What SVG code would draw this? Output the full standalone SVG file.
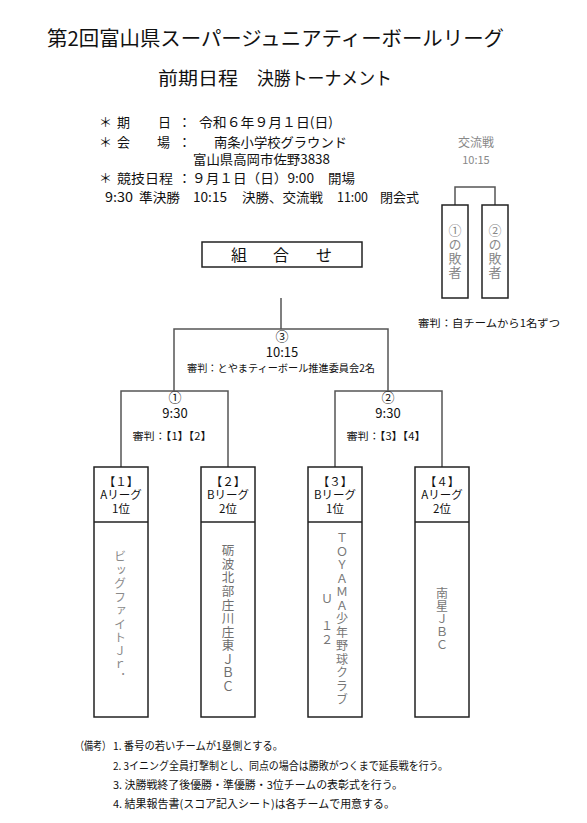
<svg xmlns="http://www.w3.org/2000/svg" width="587" height="823" viewBox="0 0 587 823">
<style>
text{font-family:"Noto Sans CJK JP","Noto Sans",sans-serif;fill:#111}
.t13{font-size:13px}
.t12{font-size:12px}
.t11{font-size:11px}
.t10{font-size:10.5px}
.hd{font-size:11.5px;text-anchor:middle}
.mid{text-anchor:middle}
.gray{fill:#888}
.vert{writing-mode:vertical-rl;text-orientation:upright;text-anchor:middle}
.box{fill:#fff;stroke:#222;stroke-width:1.5}
.line{fill:none;stroke:#555;stroke-width:1.5}
</style>
<rect width="587" height="823" fill="#fff"/>

<g id="title">
<text x="47" y="46" style="font-size:20px" textLength="457" lengthAdjust="spacingAndGlyphs">第2回富山県スーパージュニアティーボールリーグ</text>
<text x="158" y="85" style="font-size:18px" textLength="80" lengthAdjust="spacingAndGlyphs">前期日程</text>
<text x="257" y="85" style="font-size:18px" textLength="135" lengthAdjust="spacingAndGlyphs">決勝トーナメント</text>
</g>

<g id="info" class="t13">
<text x="99" y="127">＊</text><text x="117" y="127">期</text><text x="158" y="127">日</text><text x="178" y="127">：</text>
<text x="199" y="127" textLength="134" lengthAdjust="spacingAndGlyphs">令和６年９月１日(日)</text>
<text x="99" y="147">＊</text><text x="117" y="147">会</text><text x="157" y="147">場</text><text x="178" y="147">：</text>
<text x="214" y="147" textLength="133" lengthAdjust="spacingAndGlyphs">南条小学校グラウンド</text>
<text x="193" y="164" textLength="137" lengthAdjust="spacingAndGlyphs">富山県高岡市佐野3838</text>
<text x="99" y="183">＊</text>
<text x="117" y="183" textLength="56" lengthAdjust="spacingAndGlyphs">競技日程</text>
<text x="178" y="183">：</text>
<text x="192" y="183" textLength="122" lengthAdjust="spacingAndGlyphs">９月１日（日）9:00</text>
<text x="328" y="183" textLength="27" lengthAdjust="spacingAndGlyphs">開場</text>
<text x="105" y="202" textLength="28" lengthAdjust="spacingAndGlyphs">9:30</text>
<text x="139" y="202" textLength="41" lengthAdjust="spacingAndGlyphs">準決勝</text>
<text x="193" y="202" textLength="34" lengthAdjust="spacingAndGlyphs">10:15</text>
<text x="242" y="202" textLength="81" lengthAdjust="spacingAndGlyphs">決勝、交流戦</text>
<text x="337" y="202" textLength="31" lengthAdjust="spacingAndGlyphs">11:00</text>
<text x="380" y="202" textLength="39" lengthAdjust="spacingAndGlyphs">閉会式</text>
</g>

<g id="exchange">
<text x="476" y="147" class="t12 mid gray">交流戦</text>
<text x="476" y="164" class="t11 mid gray">10:15</text>
</g>

<g id="connectors">
<path class="line" d="M455 205 V187 H495 V205"/>
<path class="line" d="M281 298 V329"/>
<path class="line" d="M174 391 V329 H388 V391"/>
<path class="line" d="M121 467 V391 H228 V467"/>
<path class="line" d="M335 467 V391 H442 V467"/>
</g>

<g id="loser1">
<rect class="box" x="442" y="205" width="26" height="93"/>
<text class="vert gray" x="455" y="252" style="font-size:13px;letter-spacing:1px">①の敗者</text>
</g>
<g id="loser2">
<rect class="box" x="482" y="205" width="26" height="93"/>
<text class="vert gray" x="495" y="252" style="font-size:13px;letter-spacing:1px">②の敗者</text>
</g>
<g id="referee-note">
<text x="489" y="327" class="t10 mid" textLength="142" lengthAdjust="spacingAndGlyphs">審判：自チームから1名ずつ</text>
</g>

<g id="kumiawase">
<rect x="202" y="242" width="160" height="25" fill="#fff" stroke="#222" stroke-width="1.5"/>
<text x="239" y="261" class="mid" style="font-size:16px">組</text>
<text x="281" y="261" class="mid" style="font-size:16px">合</text>
<text x="324" y="261" class="mid" style="font-size:16px">せ</text>
</g>

<g id="final">
<text x="282" y="341" class="t13 mid">③</text>
<text x="282" y="357" class="t13 mid">10:15</text>
<text x="281" y="371.5" class="t10 mid" textLength="188" lengthAdjust="spacingAndGlyphs">審判：とやまティーボール推進委員会2名</text>
</g>
<g id="semi1">
<text x="175" y="402" class="t13 mid">①</text>
<text x="175" y="418" class="t13 mid">9:30</text>
<text x="172" y="440" class="t10 mid" textLength="79" lengthAdjust="spacingAndGlyphs">審判：【1】【2】</text>
</g>
<g id="semi2">
<text x="388" y="402" class="t13 mid">②</text>
<text x="388" y="418" class="t13 mid">9:30</text>
<text x="386" y="440" class="t10 mid" textLength="79" lengthAdjust="spacingAndGlyphs">審判：【3】【4】</text>
</g>

<g id="team1">
<rect class="box" x="94" y="467" width="54" height="250"/>
<line x1="94" y1="522" x2="148" y2="522" stroke="#222" stroke-width="1.5"/>
<text x="121" y="486" class="hd">【１】</text>
<text x="121" y="499" class="hd">Aリーグ</text>
<text x="121" y="512.5" class="hd">1位</text>
<text class="vert" x="120" y="618" style="font-size:12px;letter-spacing:1.5px;fill:#8a8a8a">ビッグファイトＪｒ．</text>
</g>
<g id="team2">
<rect class="box" x="201" y="467" width="54" height="250"/>
<line x1="201" y1="522" x2="255" y2="522" stroke="#222" stroke-width="1.5"/>
<text x="228" y="486" class="hd">【２】</text>
<text x="228" y="499" class="hd">Bリーグ</text>
<text x="228" y="512.5" class="hd">2位</text>
<text class="vert" x="228" y="619" style="font-size:12.5px;letter-spacing:1.1px;fill:#6e6e6e">砺波北部庄川庄東ＪＢＣ</text>
</g>
<g id="team3">
<rect class="box" x="308" y="467" width="54" height="250"/>
<line x1="308" y1="522" x2="362" y2="522" stroke="#222" stroke-width="1.5"/>
<text x="335" y="486" class="hd">【３】</text>
<text x="335" y="499" class="hd">Bリーグ</text>
<text x="335" y="512.5" class="hd">1位</text>
<text class="vert" x="342" y="619.5" style="font-size:12px;letter-spacing:1.5px;fill:#777">ＴＯＹＡＭＡ少年野球クラブ</text>
<text class="vert" x="327" y="620" style="font-size:12px;letter-spacing:1.5px;fill:#777">Ｕ　１２</text>
</g>
<g id="team4">
<rect class="box" x="415" y="467" width="54" height="250"/>
<line x1="415" y1="522" x2="469" y2="522" stroke="#222" stroke-width="1.5"/>
<text x="442" y="486" class="hd">【４】</text>
<text x="442" y="499" class="hd">Aリーグ</text>
<text x="442" y="512.5" class="hd">2位</text>
<text class="vert" x="442" y="619.5" style="font-size:12px;letter-spacing:1px;fill:#777">南星ＪＢＣ</text>
</g>

<g id="notes" class="t11">
<text x="75" y="749.5" textLength="36" lengthAdjust="spacingAndGlyphs">（備考）</text>
<text x="113" y="749.5" textLength="170" lengthAdjust="spacingAndGlyphs">1. 番号の若いチームが1塁側とする。</text>
<text x="113" y="769.5" textLength="335" lengthAdjust="spacingAndGlyphs">2. 3イニング全員打撃制とし、同点の場合は勝敗がつくまで延長戦を行う。</text>
<text x="113" y="788.5" textLength="290" lengthAdjust="spacingAndGlyphs">3. 決勝戦終了後優勝・準優勝・3位チームの表彰式を行う。</text>
<text x="113" y="807.5" textLength="282" lengthAdjust="spacingAndGlyphs">4. 結果報告書(スコア記入シート)は各チームで用意する。</text>
</g>
</svg>
